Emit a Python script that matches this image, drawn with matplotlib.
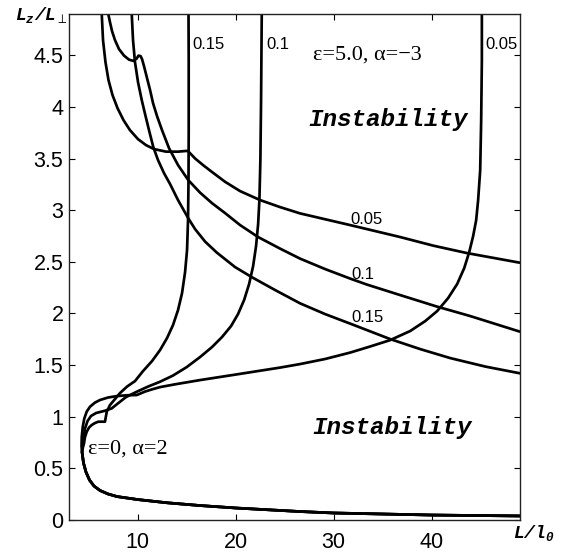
import matplotlib
matplotlib.use('Agg')
import matplotlib.pyplot as plt

plt.rcParams['mathtext.fontset'] = 'custom'
plt.rcParams['mathtext.rm'] = 'Liberation Mono:italic:bold'
plt.rcParams['mathtext.it'] = 'Liberation Mono:italic:bold'
plt.rcParams['mathtext.bf'] = 'Liberation Mono:italic:bold'

# ---- data ----
# shared lower branch of the eps=0, alpha=2 family (from right to the nose)
lower_x = [49.02, 40.01, 29.94, 26.57, 20.04, 16.37, 12.97, 10.01, 7.90, 6.98, 6.16, 5.55, 5.09, 4.73, 4.48, 4.33]
lower_y = [0.039, 0.048, 0.068, 0.082, 0.116, 0.140, 0.167, 0.198, 0.227, 0.252, 0.286, 0.329, 0.387, 0.465, 0.552, 0.658]

# upper branches, eps=0, alpha=2
a005_x = [4.28, 4.30, 4.40, 4.56, 4.81, 5.14, 5.65, 6.16, 6.98, 7.87, 8.92, 9.91,
          10.76, 11.47, 12.29, 13.82, 16.37, 20.04, 24.53, 26.57, 29.12, 31.67, 33.71, 35.76,
          37.80, 39.33, 40.55, 41.67, 42.59, 43.31, 43.82, 44.22, 44.53, 44.73, 44.94, 45.04, 45.11, 45.11]
a005_y = [0.716, 0.803, 0.900, 0.983, 1.050, 1.097, 1.137, 1.162, 1.186, 1.200, 1.208, 1.210,
          1.244, 1.265, 1.287, 1.314, 1.355, 1.409, 1.476, 1.510, 1.559, 1.621, 1.680, 1.742,
          1.830, 1.926, 2.023, 2.149, 2.285, 2.439, 2.594, 2.749, 2.904, 3.098, 3.388, 3.872, 4.453, 4.898]

a01_x = [4.38, 4.48, 4.63, 4.89, 5.24, 5.76, 6.67, 7.36, 8.00, 8.82, 9.91, 11.06, 12.29, 13.61,
         15.01, 16.37, 17.59, 18.61, 19.53, 20.24, 20.86, 21.37, 21.78, 22.08, 22.29, 22.42,
         22.52, 22.59, 22.66]
a01_y = [0.716, 0.794, 0.886, 0.958, 1.007, 1.036, 1.058, 1.081, 1.130, 1.191, 1.242, 1.292, 1.339, 1.399,
         1.481, 1.578, 1.675, 1.772, 1.878, 1.994, 2.130, 2.285, 2.459, 2.653, 2.865, 3.098,
         3.485, 4.066, 4.898]

a015_x = [4.43, 4.53, 4.63, 4.81, 5.04, 5.32, 5.65, 5.99, 6.67, 6.85, 7.18, 7.69, 8.20, 8.92,
          9.73, 10.55, 11.47, 12.29, 13.00, 13.61, 14.12, 14.53, 14.84, 15.04, 15.14, 15.19,
          15.21, 15.21, 15.19]
a015_y = [0.707, 0.742, 0.803, 0.855, 0.895, 0.920, 0.939, 0.952, 0.952, 1.048, 1.113, 1.171, 1.229, 1.292,
          1.345, 1.442, 1.539, 1.646, 1.762, 1.888, 2.033, 2.197, 2.401, 2.614, 2.904, 3.291,
          3.775, 4.453, 4.898]

# eps=5.0, alpha=-3 family
b005_x = [6.34, 6.47, 6.72, 7.03, 7.44, 7.95, 8.56, 9.22, 10.04, 10.86, 11.67, 12.90, 14.12, 15.11,
          15.86, 16.67, 17.56, 18.92, 20.45, 22.49, 24.53, 26.57, 31.67, 36.78, 40.14, 43.58, 49.02]
b005_y = [4.898, 4.647, 4.434, 4.259, 4.114, 3.988, 3.872, 3.775, 3.688, 3.630, 3.592, 3.567, 3.567, 3.575,
          3.501, 3.437, 3.372, 3.275, 3.185, 3.098, 3.030, 2.969, 2.856, 2.740, 2.657, 2.585, 2.491]

b01_x = [7.01, 7.18, 7.39, 7.69, 8.10, 8.61, 9.12, 9.56, 9.89, 10.09, 10.30, 10.45, 10.65, 10.96,
         11.27, 11.57, 11.98, 12.49, 13.20, 14.12, 15.17, 16.37, 17.59, 18.92, 20.45, 22.29,
         24.53, 26.57, 29.12, 31.67, 33.38, 36.78, 40.52, 43.92, 49.02]
b01_y = [4.898, 4.821, 4.734, 4.647, 4.560, 4.497, 4.458, 4.446, 4.468, 4.497, 4.492, 4.463, 4.395, 4.279,
         4.163, 4.037, 3.911, 3.775, 3.601, 3.437, 3.291, 3.170, 3.068, 2.972, 2.856, 2.740,
         2.628, 2.531, 2.430, 2.338, 2.280, 2.178, 2.067, 1.975, 1.823]

b015_x = [9.40, 9.53, 9.73, 10.04, 10.42, 10.81, 11.21, 11.60, 12.08, 12.69, 13.31, 14.12, 15.17,
          15.86, 16.88, 18.07, 19.94, 21.64, 24.02, 26.57, 29.12, 31.67, 35.76, 38.82, 41.88, 45.45, 49.02]
b015_y = [4.898, 4.647, 4.434, 4.240, 4.066, 3.911, 3.756, 3.611, 3.485, 3.359, 3.253, 3.098, 2.921,
          2.817, 2.696, 2.590, 2.449, 2.352, 2.227, 2.098, 1.994, 1.902, 1.752, 1.655, 1.568, 1.486, 1.420]

xticks = [10, 20, 30, 40]
yticks = [0, 0.5, 1, 1.5, 2, 2.5, 3, 3.5, 4, 4.5]
ytick_labels = ['0', '0.5', '1', '1.5', '2', '2.5', '3', '3.5', '4', '4.5']

# ---- figure ----
fig = plt.figure(figsize=(5.72, 5.54), dpi=100)
ax = fig.add_axes([69/572, 34/554, 451/572, 506/554])

lw = 1.95
for ux, uy in [(a005_x, a005_y), (a01_x, a01_y), (a015_x, a015_y)]:
    ax.plot(lower_x + ux, lower_y + uy, color='black', lw=lw,
            solid_joinstyle='round', solid_capstyle='butt')
for bx, by in [(b005_x, b005_y), (b01_x, b01_y), (b015_x, b015_y)]:
    ax.plot(bx, by, color='black', lw=lw, solid_joinstyle='round', solid_capstyle='butt')

ax.set_xlim(3, 49)
ax.set_ylim(0, 4.9)
ax.set_xticks(xticks)
ax.set_xticklabels([str(t) for t in xticks])
ax.set_yticks(yticks)
ax.set_yticklabels(ytick_labels)
ax.tick_params(direction='in', length=4, width=0.8, top=True, right=True,
               labelsize=15.5, colors='black')
ax.tick_params(axis='x', pad=9)
ax.tick_params(axis='y', pad=4)
for lab in ax.get_xticklabels() + ax.get_yticklabels():
    lab.set_family('Liberation Sans')
for s in ax.spines.values():
    s.set_linewidth(1.0)
    s.set_color('#222222')

sans = dict(family='Liberation Sans', fontsize=12, color='black')
ax.text(15.62, 4.60, '0.15', ha='left', va='center', **sans)
ax.text(23.17, 4.60, '0.1', ha='left', va='center', **sans)
ax.text(45.45, 4.60, '0.05', ha='left', va='center', **sans)
ax.text(33.37, 2.91, '0.05', ha='center', va='center', **sans)
ax.text(33.0, 2.38, '0.1', ha='center', va='center', **sans)
ax.text(33.46, 1.96, '0.15', ha='center', va='center', **sans)

serif = dict(family=['Liberation Serif', 'DejaVu Serif'], fontsize=16, color='black')
ax.text(27.93, 4.50, 'ε=5.0, α=−3', ha='left', va='center', **serif)
ax.text(4.94, 0.69, 'ε=0, α=2', ha='left', va='center', **serif)

mono = dict(family='Liberation Mono', fontsize=17.5, fontweight='bold', fontstyle='italic', color='black')
ax.text(35.5, 3.88, 'Instability', ha='center', va='center', **mono)
ax.text(36.0, 0.90, 'Instability', ha='center', va='center', **mono)

fig.text(15/572, 1 - 20/554, r'$\mathrm{L_z/L_\perp}$', fontsize=13, ha='left', va='baseline')
fig.text(513/572, 1 - 538/554, r'$\mathrm{L/l_0}$', fontsize=13, ha='left', va='baseline')

fig.savefig('out.png', dpi=100)
